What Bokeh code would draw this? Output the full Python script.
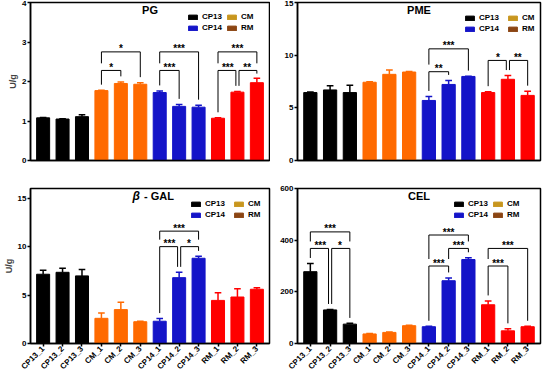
import math
from bokeh.plotting import figure
from bokeh.models import ColumnDataSource, Legend, LegendItem, Label, FixedTicker, Range1d
from bokeh.layouts import gridplot
from bokeh.embed import file_html
from bokeh.resources import INLINE
from bokeh.core.properties import value

# ---------------- data ----------------
samples = ["CP13_1", "CP13_2", "CP13_3", "CM_1", "CM_2", "CM_3",
           "CP14_1", "CP14_2", "CP14_3", "RM_1", "RM_2", "RM_3"]
groups = ["CP13"] * 3 + ["CM"] * 3 + ["CP14"] * 3 + ["RM"] * 3

pg_mean = [1.08, 1.05, 1.11, 1.77, 1.95, 1.93, 1.72, 1.37, 1.35, 1.07, 1.73, 1.97]
pg_err = [0.01, 0.01, 0.05, 0.01, 0.04, 0.04, 0.04, 0.05, 0.05, 0.01, 0.02, 0.11]

pme_mean = [6.45, 6.70, 6.45, 7.43, 8.18, 8.40, 5.70, 7.22, 7.98, 6.45, 7.71, 6.18]
pme_err = [0.05, 0.40, 0.70, 0.05, 0.40, 0.05, 0.38, 0.38, 0.03, 0.08, 0.35, 0.40]

gal_mean = [7.15, 7.35, 6.98, 2.60, 3.50, 2.25, 2.30, 6.80, 8.80, 4.45, 4.80, 5.60]
gal_err = [0.40, 0.42, 0.65, 0.55, 0.75, 0.05, 0.28, 0.55, 0.20, 0.80, 0.85, 0.15]

cel_mean = [278, 130, 75, 37, 43, 69, 65, 243, 325, 150, 49, 65]
cel_err = [32, 2, 3, 2, 2, 2, 2, 11, 7, 15, 8, 2]

# significance brackets: (from, to, height, label)
pg_sig = [("CM_1", "CM_2", 2.28, "*"), ("CM_1", "CM_3", 2.75, "*"),
          ("CP14_1", "CP14_2", 2.28, "***"), ("CP14_1", "CP14_3", 2.75, "***"),
          ("RM_1", "RM_2", 2.28, "***"), ("RM_2", "RM_3", 2.28, "**"),
          ("RM_1", "RM_3", 2.75, "***")]
pme_sig = [("CP14_1", "CP14_2", 8.43, "**"), ("CP14_1", "CP14_3", 10.6, "***"),
           ("RM_1", "RM_2", 9.5, "*"), ("RM_2", "RM_3", 9.5, "**")]
gal_sig = [("CP14_1", "CP14_2", 10.0, "***"), ("CP14_2", "CP14_3", 10.0, "*"),
           ("CP14_1", "CP14_3", 11.6, "***")]
cel_sig = [("CP13_1", "CP13_2", 368, "***"), ("CP13_2", "CP13_3", 368, "*"),
           ("CP13_1", "CP13_3", 432, "***"), ("CP14_1", "CP14_2", 300, "***"),
           ("CP14_2", "CP14_3", 368, "***"), ("CP14_1", "CP14_3", 420, "***"),
           ("RM_1", "RM_2", 300, "***"), ("RM_1", "RM_3", 368, "***")]

legend_names = ["CP13", "CP14", "CM", "RM"]

# ---------------- styles ----------------
FONT = "Liberation Sans"
bar_colors = {"CP13": "#000000", "CM": "#FF6A00", "CP14": "#1414C8", "RM": "#FF0000"}
legend_colors = {"CP13": "#000000", "CP14": "#1414C8", "CM": "#C8961E", "RM": "#8B4513"}


def panel(title, mean, err, sig, ymax, ystep, left, bottom, leg_off, ylabel):
    fw = 239 if left else 243
    fh = 158 if not bottom else 155
    p = figure(output_backend="svg", toolbar_location=None,
               frame_width=fw, frame_height=fh,
               min_border_left=22, min_border_right=6 if left else 2,
               min_border_top=2 if not bottom else 12,
               min_border_bottom=16 if not bottom else 28,
               x_range=Range1d(-0.65, 11.65), y_range=Range1d(0, ymax))
    p.xgrid.visible = False
    p.ygrid.visible = False
    p.outline_line_color = "black"
    p.outline_line_width = 1.5
    p.background_fill_color = "white"
    p.border_fill_color = "white"

    xs = list(range(len(samples)))
    cols = [bar_colors[g] for g in groups]
    tops = [m + e for m, e in zip(mean, err)]
    src = ColumnDataSource(dict(x=xs, top=mean, etop=tops, color=cols,
                                xl=[x - 0.17 for x in xs], xr=[x + 0.17 for x in xs]))
    p.vbar(x="x", top="top", width=0.67, bottom=0, source=src,
           fill_color="color", line_color="color")
    p.segment(x0="x", y0="top", x1="x", y1="etop", source=src, line_color="color", line_width=1.5)
    p.segment(x0="xl", y0="etop", x1="xr", y1="etop", source=src, line_color="color", line_width=1.5)

    # brackets
    gap = 0.035 * ymax
    bxs, bys, tx, ty, tt = [], [], [], [], []
    for (a, b, y, lab) in sig:
        i, j = samples.index(a), samples.index(b)
        xi, xj = float(i), float(j)
        for (a2, b2, y2, _) in sig:
            if y2 == y and (a2, b2) != (a, b):
                if samples.index(b2) == i:
                    xi += 0.08
                if samples.index(a2) == j:
                    xj -= 0.08
        legs = []
        for k in (i, j):
            cands = [tops[k] + gap]
            for (a2, b2, y2, _) in sig:
                i2, j2 = samples.index(a2), samples.index(b2)
                if y2 < y and i2 <= k <= j2:
                    cands.append(y2 + 0.045 * ymax)
            lb = min(max(cands), y - 0.02 * ymax)
            legs.append(lb)
        bxs.append([xi, xi, xj, xj])
        bys.append([legs[0], y, y, legs[1]])
        tx.append((i + j) / 2)
        ty.append(y)
        tt.append(lab)
    p.multi_line(xs=bxs, ys=bys, line_color="black", line_width=1)
    p.text(x=tx, y=ty, text=tt, text_align="center", text_baseline="middle", y_offset=-3,
           text_font=value(FONT), text_font_style="bold", text_font_size="10px", text_color="black")

    # axes
    p.yaxis.ticker = FixedTicker(ticks=[k * ystep for k in range(int(ymax // ystep) + 1)])
    for ax in (p.xaxis[0], p.yaxis[0]):
        ax.axis_line_width = 1.5
        ax.axis_line_color = "black"
        ax.major_tick_line_color = "black"
        ax.major_tick_line_width = 1.5
        ax.major_tick_out = 3
        ax.major_tick_in = 0
        ax.minor_tick_line_color = None
        ax.major_label_text_font = FONT
        ax.major_label_text_font_style = "bold"
        ax.major_label_text_font_size = "8px"
        ax.major_label_text_color = "black"
        ax.major_label_standoff = 1
    if bottom:
        p.xaxis.ticker = FixedTicker(ticks=xs)
        p.xaxis.major_label_overrides = {x: s for x, s in zip(xs, samples)}
        p.xaxis.major_label_orientation = math.pi / 4
    else:
        p.xaxis.ticker = FixedTicker(ticks=[])
    if ylabel:
        p.yaxis.axis_label = ylabel
        p.yaxis.axis_label_text_font = FONT
        p.yaxis.axis_label_text_font_style = "bold"
        p.yaxis.axis_label_text_font_size = "9px"
        p.yaxis.axis_label_standoff = 1

    # title inside plot
    if title == "β - GAL":
        p.add_layout(Label(x=5.5, y=ymax * 0.95, x_offset=-10, text="β", text_align="right",
                           text_baseline="middle", text_font=FONT, text_font_style="bold italic",
                           text_font_size="12px", text_color="black"))
        p.add_layout(Label(x=5.5, y=ymax * 0.95, x_offset=-6, text="- GAL", text_align="left",
                           text_baseline="middle", text_font=FONT, text_font_style="bold",
                           text_font_size="11px", text_color="black"))
    else:
        p.add_layout(Label(x=5.5, y=ymax * 0.95, text=title, text_align="center",
                           text_baseline="middle", text_font=FONT, text_font_style="bold",
                           text_font_size="11px", text_color="black"))

    # legends (two columns); the swatch renderers hold no visible bar
    rend = {}
    for n in legend_names:
        rend[n] = p.vbar(x=[float("nan")], top=[float("nan")], width=0.5,
                         fill_color=legend_colors[n], line_color=legend_colors[n])
    off1, off2, dy = leg_off
    for names, off in ((legend_names[:2], off1), (legend_names[2:], off2)):
        lg = Legend(items=[LegendItem(label=n, renderers=[rend[n]]) for n in names],
                    location=(fw - off, fh - dy - 20), padding=0, margin=0, spacing=2,
                    glyph_width=11, glyph_height=6, label_height=9, label_standoff=4,
                    label_text_font=FONT, label_text_font_style="bold",
                    label_text_font_size="8px", label_text_color="black",
                    border_line_alpha=0, background_fill_alpha=0)
        p.add_layout(lg, "center")
    return p


p1 = panel("PG", pg_mean, pg_err, pg_sig, 4, 1, True, False, (82, 43, 10), "U/g")
p2 = panel("PME", pme_mean, pme_err, pme_sig, 15, 5, False, False, (76, 33, 11), None)
p3 = panel("β - GAL", gal_mean, gal_err, gal_sig, 16, 5, True, True, (79, 36, 11), "U/g")
p4 = panel("CEL", cel_mean, cel_err, cel_sig, 600, 200, False, True, (87, 48, 11), None)

layout = gridplot([[p1, p2], [p3, p4]], toolbar_location=None)
open("out.html", "w").write(file_html(layout, INLINE))
